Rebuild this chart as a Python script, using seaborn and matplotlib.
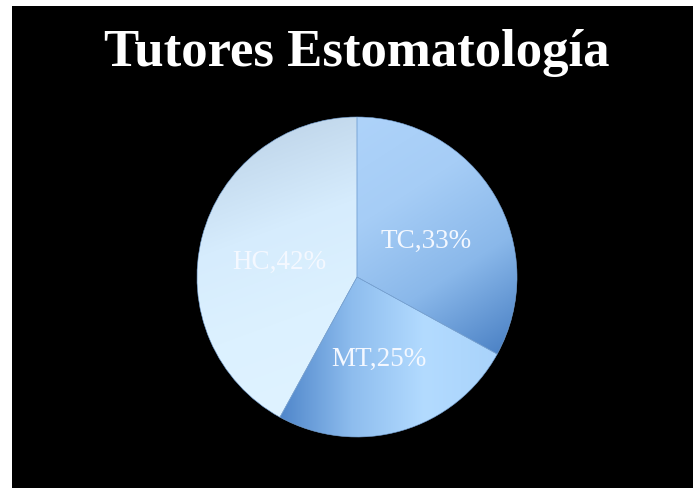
import numpy as np
import matplotlib
matplotlib.use('Agg')
import matplotlib.pyplot as plt
import seaborn as sns
from matplotlib.colors import to_rgb
from matplotlib.patches import Rectangle

# data
categories = ['TC', 'MT', 'HC']
percentages = [33, 25, 42]
title = 'Tutores Estomatología'

# gradient stops per slice: (direction, [colors])
gradients = {
    'TC': ((0.55, -0.85), ['#aed3fa', '#a6cdf6', '#8ab8ea', '#4d83c6']),
    'MT': ((1.0, 0.0), ['#4f86ca', '#8ebdee', '#b3dbff', '#a9d3fb']),
    'HC': ((0.35, -0.95), ['#c2d8ec', '#d6ecfd', '#dcf1ff', '#dff3ff']),
}

sns.set_style('white')
plt.rcParams['font.family'] = ['Liberation Serif', 'DejaVu Serif']

W, H = 693, 488
fig = plt.figure(figsize=(W / 100, H / 100), dpi=100, facecolor='white')
fig.patches.append(Rectangle((12 / W, 0), 1, (H - 6) / H, transform=fig.transFigure,
                             facecolor='black', edgecolor='none', zorder=-10))

cx, cy, r = 357, 277, 160
ax = fig.add_axes([(cx - r) / W, (H - cy - r) / H, 2 * r / W, 2 * r / H])
ax.set_facecolor('none')

base = sns.color_palette('Blues', 3)
labels = [f'{c},{p}%' for c, p in zip(categories, percentages)]
wedges, texts = ax.pie(percentages, labels=labels, startangle=90, counterclock=False,
                       colors=base, labeldistance=0.5, radius=1,
                       wedgeprops=dict(linewidth=0.4, edgecolor='#7aa6d8'))

n = 500
xs = np.linspace(-1, 1, n)
X, Y = np.meshgrid(xs, xs)
for wedge, cat in zip(wedges, categories):
    (dx, dy), stops = gradients[cat]
    verts = wedge.get_path().vertices
    proj = verts[:, 0] * dx + verts[:, 1] * dy
    t = (X * dx + Y * dy - proj.min()) / (proj.max() - proj.min())
    t = np.clip(t, 0, 1)
    pos = np.linspace(0, 1, len(stops))
    rgb = np.array([to_rgb(s) for s in stops])
    img = np.dstack([np.interp(t, pos, rgb[:, k]) for k in range(3)])
    wedge.set_facecolor('none')
    im = ax.imshow(img, extent=(-1, 1, -1, 1), origin='lower', zorder=0.5,
                   interpolation='bilinear')
    im.set_clip_path(wedge)

for txt in texts:
    x, y = txt.get_position()
    txt.set_position((x, y - 0.035))
    txt.set_ha('center')
    txt.set_va('center')
    txt.set_color('#f4f8ff')
    txt.set_fontsize(19.5)
    txt.set_zorder(5)

ax.set_xlim(-1, 1)
ax.set_ylim(-1, 1)
ax.set_aspect('equal')
ax.axis('off')

fig.text(357 / W, 1 - 66 / H, title, ha='center', va='baseline', color='white',
         fontsize=38, fontweight='bold')

fig.savefig('out.png', dpi=100, facecolor='white')
